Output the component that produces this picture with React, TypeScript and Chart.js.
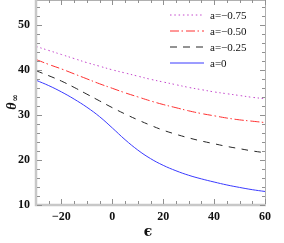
import React, { useEffect, useRef } from "react";
import { Chart, registerables } from "chart.js";

Chart.register(...registerables);

const epsilon = [-30, -25, -20, -15, -10, -5, 0, 5, 10, 15, 20, 25, 30, 35, 40, 45, 50, 55, 60];
const seriesA075 = [45.2, 44.3, 43.4, 42.5, 41.6, 40.8, 40.0, 39.3, 38.6, 37.9, 37.3, 36.7, 36.1, 35.6, 35.1, 34.7, 34.3, 33.9, 33.6];
const seriesA050 = [42.3, 41.2, 40.2, 39.1, 38.0, 36.9, 35.9, 34.9, 34.0, 33.1, 32.3, 31.6, 30.9, 30.3, 29.8, 29.3, 28.9, 28.6, 28.3];
const seriesA025 = [39.8, 38.7, 37.5, 36.1, 34.6, 33.1, 31.6, 30.2, 28.9, 27.7, 26.6, 25.7, 24.9, 24.2, 23.6, 23.0, 22.5, 22.0, 21.6];
const seriesA0 = [37.7, 36.5, 35.1, 33.5, 31.7, 29.6, 27.1, 24.5, 22.2, 20.3, 18.8, 17.6, 16.6, 15.8, 15.1, 14.45, 13.9, 13.4, 13.0];
const seriesLabels = ["a=\u22120.75", "a=\u22120.50", "a=\u22120.25", "a=0"];
const seriesColors = ["#c448cc", "#ff3030", "#262626", "#3a3aff"];
const xTicks = [-20, 0, 20, 40, 60];
const xMinorTicks = [-25, -20, -15, -10, -5, 0, 5, 10, 15, 20, 25, 30, 35, 40, 45, 50, 55, 60];
const yTicks = [10, 20, 30, 40, 50];
const yMinorTicks = [12, 14, 16, 18, 22, 24, 26, 28, 32, 34, 36, 38, 42, 44, 46, 48, 52, 54];
const xRange = [-30, 60];
const yRange = [10, 55.5];

const fmt = (v: number) => String(v).replace("-", "\u2212");

export default function App() {
  const ref = useRef<HTMLCanvasElement>(null);
  useEffect(() => {
    document.body.style.margin = "0";
    const canvas = ref.current!;
    const dashes: number[][] = [[1.5, 2.8], [9, 2.5, 1.5, 3], [7, 6], []];
    const framePlugin = {
      id: "frame",
      afterDatasetsDraw(chart: any) {
        const ctx: CanvasRenderingContext2D = chart.ctx;
        const { left, right, top, bottom } = chart.chartArea;
        const xs = chart.scales.x;
        const ys = chart.scales.y;
        ctx.save();
        ctx.strokeStyle = "#b0b0b0";
        ctx.lineWidth = 1;
        ctx.beginPath();
        ctx.moveTo(left, top + 0.5);
        ctx.lineTo(right + 0.5, top + 0.5);
        ctx.lineTo(right + 0.5, bottom);
        ctx.stroke();
        ctx.strokeStyle = "#c8c8c8";
        ctx.lineWidth = 2.5;
        ctx.beginPath();
        ctx.moveTo(left, top);
        ctx.lineTo(left, bottom);
        ctx.lineTo(right + 1, bottom);
        ctx.stroke();
        ctx.strokeStyle = "#909090";
        ctx.lineWidth = 1;
        ctx.beginPath();
        for (const v of xMinorTicks) {
          const p = Math.round(xs.getPixelForValue(v)) + 0.5;
          const len = xTicks.includes(v) ? 5 : 3;
          ctx.moveTo(p, bottom - 1);
          ctx.lineTo(p, bottom - 1 - len);
          ctx.moveTo(p, top);
          ctx.lineTo(p, top + len);
        }
        for (const v of [...yTicks, ...yMinorTicks]) {
          const p = Math.round(ys.getPixelForValue(v)) + 0.5;
          const len = yTicks.includes(v) ? 5 : 3;
          ctx.moveTo(left + 1, p);
          ctx.lineTo(left + 1 + len, p);
          ctx.moveTo(right, p);
          ctx.lineTo(right - len, p);
        }
        ctx.stroke();
        ctx.restore();
        const rows = [15, 31, 47, 63];
        for (let i = 0; i < seriesLabels.length; i++) {
          const y = rows[i];
          ctx.save();
          ctx.strokeStyle = seriesColors[i];
          ctx.lineWidth = 1;
          ctx.setLineDash(dashes[i]);
          ctx.beginPath();
          ctx.moveTo(170, y);
          ctx.lineTo(204, y);
          ctx.stroke();
          ctx.restore();
          ctx.save();
          ctx.fillStyle = "#111";
          ctx.font = "11px 'Liberation Serif'";
          ctx.textBaseline = "middle";
          ctx.textAlign = "left";
          ctx.fillText(seriesLabels[i], 210, y + 1);
          ctx.restore();
        }
        ctx.save();
        ctx.fillStyle = "#111";
        ctx.translate(12, 106);
        ctx.rotate(-Math.PI / 2);
        ctx.textBaseline = "middle";
        ctx.textAlign = "center";
        ctx.font = "italic bold 14px 'Liberation Serif'";
        ctx.fillText("\u03B8", 0, 0);
        ctx.font = "bold 9px 'DejaVu Serif'";
        ctx.fillText("\u221E", 8, 4);
        ctx.restore();
        ctx.save();
        ctx.fillStyle = "#111";
        ctx.font = "bold 14px 'DejaVu Serif'";
        ctx.textAlign = "center";
        ctx.textBaseline = "middle";
        ctx.fillText("\u03F5", 148, 232);
        ctx.restore();
      },
    };
    const mk = (i: number, data: number[]) => ({
      label: seriesLabels[i],
      data: epsilon.map((x, k) => ({ x, y: data[k] })),
      borderColor: seriesColors[i],
      borderWidth: 1,
      borderDash: dashes[i],
      pointRadius: 0,
      fill: false,
      tension: 0.4,
    });
    const chart = new Chart(canvas, {
      type: "line",
      data: {
        datasets: [mk(0, seriesA075), mk(1, seriesA050), mk(2, seriesA025), mk(3, seriesA0)],
      },
      options: {
        animation: false,
        responsive: false,
        layout: { padding: { top: 0, right: 19, left: 0, bottom: 0 } },
        plugins: { legend: { display: false }, tooltip: { enabled: false } },
        scales: {
          x: {
            type: "linear",
            min: xRange[0],
            max: xRange[1],
            grid: { display: false, drawTicks: false },
            border: { display: false },
            afterBuildTicks: (s: any) => {
              s.ticks = xTicks.map((v) => ({ value: v }));
            },
            afterFit: (s: any) => {
              s.height = 38;
              s.paddingLeft = 0;
              s.paddingRight = 0;
            },
            ticks: {
              padding: 5,
              color: "#111",
              font: { family: "'Liberation Serif'", size: 12, weight: "bold" },
              callback: (v: any) => fmt(v),
              maxRotation: 0,
            },
          },
          y: {
            type: "linear",
            min: yRange[0],
            max: yRange[1],
            grid: { display: false, drawTicks: false },
            border: { display: false },
            afterBuildTicks: (s: any) => {
              s.ticks = yTicks.map((v) => ({ value: v }));
            },
            afterFit: (s: any) => {
              s.width = 36;
              s.paddingTop = 0;
              s.paddingBottom = 0;
            },
            ticks: {
              padding: 6,
              color: "#111",
              font: { family: "'Liberation Serif'", size: 12, weight: "bold" },
              callback: (v: any) => fmt(v),
            },
          },
        },
      },
      plugins: [framePlugin],
    });
    return () => chart.destroy();
  }, []);
  return <canvas ref={ref} width={284} height={243} style={{ display: "block" }} />;
}
